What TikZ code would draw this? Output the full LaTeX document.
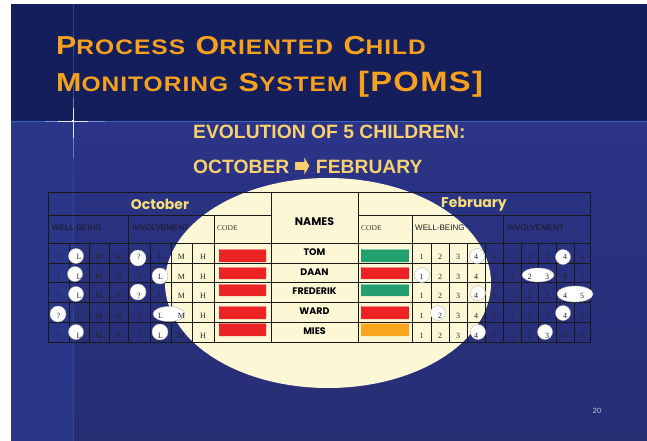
\documentclass[tikz,border=0pt]{standalone}
\usepackage{fontspec}
\setmainfont{Liberation Serif}
\newfontfamily\arialf{Liberation Sans}
\newfontfamily\comicf{Poppins}
\newfontfamily\symf{DejaVu Sans}
\newfontfamily\titlef[LetterSpace=4]{Liberation Sans}
\definecolor{topband}{RGB}{20,30,90}
\definecolor{lowband}{RGB}{43,52,135}
\definecolor{lowdark}{RGB}{39,46,116}
\definecolor{leftstrip}{RGB}{42,54,136}
\definecolor{flare}{RGB}{60,100,190}
\definecolor{cream}{RGB}{252,248,214}
\definecolor{titleor}{RGB}{245,160,30}
\definecolor{subyel}{RGB}{248,208,110}
\definecolor{monthyel}{RGB}{246,222,120}
\definecolor{codered}{RGB}{236,34,36}
\definecolor{codegreen}{RGB}{36,160,112}
\definecolor{codeorange}{RGB}{249,166,28}
\definecolor{pagegray}{RGB}{190,195,225}
\newcommand\tbig[1]{{\fontsize{26}{26}\selectfont #1}}
\newcommand\tsml[1]{{\fontsize{21}{21}\selectfont #1}}
\newcommand\tgap{\hspace{9pt}}
\tikzset{
  gridl/.style={draw=black!90, line width=0.8pt},
  cellt/.style={font=\fontsize{8}{8}\selectfont, inner sep=0pt, text=black!85},
  ring/.style={fill=white, draw=gray!55, line width=0.4pt},
  hdrt/.style={font=\arialf\fontsize{8}{8}\selectfont, anchor=west, inner sep=0pt, text=black!90},
  codet/.style={font=\fontsize{7.5}{8}\selectfont, anchor=west, inner sep=0pt, text=black!80},
  montht/.style={font=\comicf\bfseries\fontsize{14}{14}\selectfont, text=monthyel, inner sep=0pt},
  namet/.style={font=\comicf\bfseries\fontsize{9.5}{10}\selectfont, inner sep=0pt},
  titlet/.style={font=\titlef\bfseries, text=titleor, anchor=base west, inner sep=0pt},
  subt/.style={font=\arialf\bfseries\fontsize{19.3}{19}\selectfont, text=subyel, anchor=base west, inner sep=0pt},
  codebar/.style={rounded corners=0.6pt},
}
\begin{document}
\begin{tikzpicture}[x=1pt,y=-1pt]
\useasboundingbox (0,0) rectangle (647,441);
\fill[white] (0,0) rectangle (647,441);
% slide background
\fill[topband] (11,4) rectangle (647,121);
\shade[top color=lowband, bottom color=lowdark] (73,121) rectangle (647,441);
\fill[leftstrip] (11,121) rectangle (73,441);
\draw[flare, line width=1pt] (11,121) -- (647,121);
\draw[flare!60!topband, line width=0.8pt] (73,4) -- (73,441);
\draw[white, opacity=0.3, line width=1pt] (45,121) -- (105,121);
\draw[white, opacity=0.8, line width=0.9pt] (58,121) -- (88,121);
\draw[white, opacity=0.3, line width=1pt] (73,98) -- (73,158);
\draw[white, opacity=0.8, line width=0.9pt] (73,108) -- (73,138);
\fill[white] (73,121) circle (1.4);
% title
\node[titlet] (title1) at (56,55) {\scalebox{1.17}[1]{\tbig{P}\tsml{ROCESS}\tgap\tbig{O}\tsml{RIENTED}\tgap\tbig{C}\tsml{HILD}}};
\node[titlet] (title2) at (56,92) {\scalebox{1.17}[1]{\tbig{M}\tsml{ONITORING}\tgap\tbig{S}\tsml{YSTEM}\tgap{\fontsize{28}{28}\selectfont [POMS]}}};
% subtitle
\node[subt] (sub1) at (193,138) {EVOLUTION OF 5 CHILDREN:};
\node[subt] (sub2) at (193,173) {OCTOBER \raisebox{-3.5pt}{\scalebox{0.95}[1.6]{\symf\fontsize{20}{20}\selectfont ➡}} FEBRUARY};
% cream ellipse
\fill[cream] (328,283) ellipse [x radius=163, y radius=105];
% grid
\draw[gridl, line width=1pt] (48,192) rectangle (590,342);
\draw[gridl] (48,215) -- (271,215) (358,215) -- (590,215);
\foreach \yy in {243,263,282,302,322} \draw[gridl] (48,\yy) -- (590,\yy);
\foreach \xx in {271,358} \draw[gridl] (\xx,192) -- (\xx,342);
\foreach \xx in {128,214,412,503} \draw[gridl] (\xx,215) -- (\xx,342);
\foreach \xx in {69,89,109,150,171,192,431,449,467,485,521,538,556,574} \draw[gridl] (\xx,243) -- (\xx,342);
% header texts
\node[montht] (oct) at (160,204) {October};
\node[montht] (feb) at (474,204) {February};
\node[namet, font=\comicf\bfseries\fontsize{11}{11}\selectfont] (names) at (314.5,222) {NAMES};
\node[hdrt] (owb) at (52,228) {WELL-BEING};
\node[hdrt] (oinv) at (132,228) {INVOLVEMENT};
\node[codet] (ocode) at (217,228) {CODE};
\node[codet] (fcode) at (361,228) {CODE};
\node[hdrt] (fwb) at (415,228) {WELL-BEING};
\node[hdrt] (finv) at (507,228) {INVOLVEMENT};
% code bars
\foreach \r/\ya/\yb/\fc in {1/249/262/codegreen,2/267/279/codered,3/284/296/codegreen,4/306/319/codered,5/323/336/codeorange} {
  \fill[codered, codebar] (219,\ya) rectangle (266,\yb);
  \fill[codered!55!white] (219.5,\ya) rectangle (265.5,\ya+1);
  \fill[\fc, codebar] (361,\ya) rectangle (409,\yb);
  \fill[\fc!55!white] (361.5,\ya) rectangle (408.5,\ya+1);
}
% rings October
\draw[ring] (76,256) circle (7.5);
\draw[ring] (138,258) circle (8);
\draw[ring] (75,274) circle (7.5);
\draw[ring] (160,276) circle (8);
\draw[ring] (76,294) circle (7.5);
\draw[ring] (138,292) circle (8);
\draw[ring] (58,314) circle (8);
\draw[ring] (169,314) ellipse [x radius=16, y radius=7.5];
\draw[ring] (76,332) circle (7.5);
\draw[ring] (160,332) circle (8);
% rings February
\draw[ring] (477,256) circle (7.5);
\draw[ring] (563,257) circle (7.5);
\draw[ring] (422,275) circle (7.5);
\draw[ring] (538,275) ellipse [x radius=16, y radius=7];
\draw[ring] (478,293) circle (7.5);
\draw[ring] (575,294) ellipse [x radius=18, y radius=8];
\draw[ring] (438,313) circle (7.5);
\draw[ring] (563,313) circle (7.5);
\draw[ring] (478,332) circle (7.5);
\draw[ring] (545,332) circle (7.5);
% cell letters
\foreach \r/\yy in {1/257,2/277,3/296,4/316,5/336} {
  \foreach \c/\xx/\t in {1/58.5/?,2/79/L,3/99/M,4/118.5/H,5/139/?,6/160.5/L,7/181.5/M,8/203/H}
    \node[cellt] (o-\r-\c) at (\xx,\yy) {\t};
  \foreach \c/\xx/\t in {1/421.5/1,2/440/2,3/458/3,4/476/4,5/494/5,6/512/1,7/529.5/2,8/547/3,9/565/4,10/582/5}
    \node[cellt] (f-\r-\c) at (\xx,\yy) {\t};
}
% names
\node[namet] (tom) at (314.5,252) {TOM};
\node[namet] (daan) at (314.5,272) {DAAN};
\node[namet] (frederik) at (314.5,291) {FREDERIK};
\node[namet] (ward) at (314.5,311) {WARD};
\node[namet] (mies) at (314.5,331) {MIES};
% page number
\node[font=\arialf\fontsize{7.5}{8}\selectfont, text=pagegray, inner sep=0pt] (pnum) at (597,411) {20};
\end{tikzpicture}
\end{document}
